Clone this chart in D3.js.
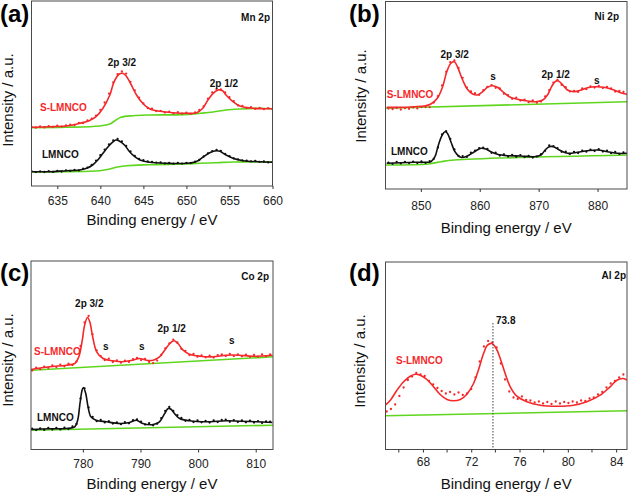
<!DOCTYPE html>
<html><head><meta charset="utf-8">
<script src="https://cdn.jsdelivr.net/npm/d3@7"></script>
<style>
html,body{margin:0;padding:0;background:#fff;}
svg{display:block;}
text{font-family:"Liberation Sans",Arial,sans-serif;}
</style></head>
<body>
<svg id="chart" width="629" height="494"></svg>
<script>
// ---------------- DATA ----------------
// (a) Mn 2p
const mnTicks = [635, 640, 645, 650, 655, 660];
const mnFitS = [[632,58.7],[634.1,59.3],[636,60],[637.6,62.7],[638.7,65.3],[639.5,69.3],[640.3,77.7],[641.1,91],[641.6,104.3],[642.2,112],[642.6,112.7],[643,110],[643.6,101],[644.2,91],[645,82],[645.7,77.3],[646.9,74.7],[648.4,73.3],[650,72.7],[651.2,73.3],[651.9,77.7],[652.5,86],[653.1,92.7],[653.7,96],[654.2,95.3],[654.6,91],[655.4,84.3],[656.2,80],[657.4,78],[658.9,77.3],[660,77.3]];
const mnBgS = [[632,58.3],[636,58.7],[639.9,60],[641.1,62],[641.7,65.3],[642.4,68.7],[643.8,70.3],[645.7,71],[649.6,71.3],[651.6,72.7],[653.1,74],[654.6,76],[656.2,77],[658.5,77.7],[660,77.3]];
const mnFitL = [[632,14.3],[634.1,14.3],[636,15.3],[637.6,16],[638.4,17.7],[639.1,21],[639.7,26],[640.3,32.7],[640.9,39.3],[641.5,44.3],[641.8,46],[642.2,45],[642.8,41],[643.4,34.3],[644,29.3],[644.6,26],[645.7,23.7],[647.7,22.7],[650,22.7],[651.1,24.3],[651.9,28.7],[652.7,33.3],[653.5,35.3],[653.9,34.7],[654.6,31],[655.4,27.7],[656.6,25.3],[658.5,24.3],[660,23.7]];
const mnBgL = [[632,14],[639.9,15.3],[641,16.7],[641.8,18.7],[643,20.3],[645.7,21.3],[649.6,22],[651.5,22.7],[653.5,23.3],[655.4,24],[660,24]];
const mnDotStart = 632, mnDotStep = 0.5;
const mnDotsS = [59.2,58.3,59.5,58.6,59.9,59.0,60.3,59.4,60.6,61.4,61.0,63.2,63.0,65.5,67.3,70.4,76.2,83.5,92.4,103.5,111.8,114.6,112.4,104.2,95.6,88.4,82.5,78.0,77.3,74.8,75.2,73.5,74.3,72.6,73.8,72.3,73.4,72.2,73.6,76.1,79.6,87.4,93.5,96.8,96.7,93.6,88.8,84.9,80.6,80.2,78.0,78.9,77.1,78.0,76.8,77.9,76.9];
const mnDotsL = [14.8,13.9,14.6,14.0,14.9,14.1,15.2,14.5,15.7,15.1,16.2,15.6,17.3,18.4,21.2,25.3,30.8,36.4,41.5,45.6,47.0,44.6,40.1,34.6,30.2,27.2,25.8,24.6,24.1,23.4,23.6,22.5,23.2,22.3,23.1,22.4,23.0,22.9,24.3,26.0,29.5,32.6,34.8,36.0,35.2,32.0,29.8,27.6,26.7,25.6,25.4,24.7,25.0,24.2,24.5,23.6,24.0];

// (b) Ni 2p
const niTicks = [850, 860, 870, 880];
const niFitS = [[844.2,81.7],[846.6,81.7],[848.9,82.3],[850.6,83],[851.7,85],[852.8,90.7],[853.7,102.3],[854.4,117.3],[855.1,125.7],[855.7,127.3],[856.2,122.3],[857.1,109],[857.9,99.7],[858.8,95],[859.6,94],[860.5,97.3],[861.3,101.7],[862.2,103.3],[863,101.7],[863.9,97.3],[865,92.3],[866.4,89.7],[868.1,88],[869.5,87.3],[870.7,89],[871.5,94],[872.2,102.3],[872.8,107.3],[873.3,108.3],[874.1,104],[874.9,99],[876,97.3],[877.2,99],[878.3,101.3],[879.7,102.3],[881.1,101.7],[882.8,99],[884.2,95.7],[885.1,94.7]];
const niBgS = [[844,80.7],[885,87.3]];
const niFitL = [[844.2,25.7],[846.6,26.3],[848.9,26.7],[850.6,26.7],[851.7,27.3],[852.4,32.3],[852.9,42.3],[853.5,52.3],[854.1,57.3],[854.5,55.7],[855.1,47.3],[855.8,37.3],[856.8,31.7],[857.9,33],[859.1,37.3],[860.2,40.7],[861,40],[861.9,37.3],[863,34.7],[864.7,33.3],[867,33],[869.2,32.3],[870.4,34],[871.1,39],[871.8,42.3],[872.5,42.3],[873.5,39],[874.9,35.7],[876.6,36.7],[878.3,38.3],[880,39],[881.7,37.3],[883.4,35.7],[885.1,35.7]];
const niBgL = [[844,24],[851.3,25],[853.4,27.3],[855.7,29],[885,34]];
const niDotStart = 844.5, niDotStep = 0.7;
const niDotsS = [80.5,79.8,81.0,79.5,80.8,80.2,81.5,80.6,81.9,82.0,81.8,86.5,92.8,103.5,117.2,126.8,128.5,121.0,111.2,101.5,97.6,95.8,94.2,98.9,102.1,103.9,101.2,100.6,95.3,93.9,90.2,91.3,88.4,89.3,86.8,88.6,86.3,87.5,92.6,98.8,106.3,109.0,104.1,101.8,97.6,98.2,97.1,100.5,99.8,102.7,101.4,103.2,100.9,102.0,100.6,97.4,98.0,97.1];
const niDotsL = [26.4,25.2,27.0,25.6,27.1,25.9,27.4,26.0,27.5,26.1,27.9,30.2,41.5,54.6,57.8,50.1,39.5,33.0,32.9,32.1,36.3,38.4,40.9,41.3,40.0,36.2,36.3,33.5,34.7,32.4,34.0,32.2,33.9,32.0,33.2,31.5,32.4,34.8,38.2,43.5,42.9,40.8,37.2,37.3,35.0,37.2,36.0,38.3,37.3,39.4,38.0,39.8,37.4,38.3,35.8,37.0,35.1,36.5];

// (c) Co 2p
const coTicks = [780, 790, 800, 810];
const coFitS = [[771,80],[774.2,82.7],[777.1,84.3],[778.6,86],[779.3,92.7],[779.9,109.3],[780.3,124.3],[780.8,132],[781.2,127.7],[781.7,112.7],[782.4,97.7],[783.5,91],[785.2,88.7],[786.9,87.7],[788.7,89.3],[789.8,91],[791,89.3],[792.2,89.3],[793.3,92.7],[794.2,99.3],[795.1,106],[795.8,108.7],[796.5,106],[797.4,99.3],[798.5,95.3],[800.3,93.3],[802.6,92.7],[804.9,94.3],[807.2,94.3],[809.5,93.3],[812.9,94.3]];
const coBgS = [[771,79.3],[813,92.7]];
const coFitL = [[771,20],[774.2,20.7],[777.1,21],[778.6,22.7],[779.1,29.3],[779.5,46],[779.9,60],[780.1,62],[780.5,56],[780.9,42.7],[781.4,32.7],[782.3,29.3],[784.1,27.7],[786.4,26],[788.1,27],[789.3,29.3],[790.4,26],[792.2,25],[793.3,27.7],[794.2,36],[794.8,41],[795.3,40.3],[795.9,36],[796.8,31],[798.5,28.7],[801.4,27.7],[804.9,28.7],[807.2,28.3],[810.1,27.7],[812.9,27]];
const coBgL = [[771,19.3],[813,24.3]];
const coDotStart = 771.2, coDotStep = 0.7;
const coDotsS = [79.0,81.9,80.3,82.9,81.6,84.0,82.4,84.8,83.2,85.8,84.4,88.0,103.5,127.0,133.5,115.2,99.0,93.4,89.5,90.8,87.5,89.2,86.8,88.9,87.6,90.4,91.5,89.4,90.5,87.5,86.4,88.9,94.5,101.2,106.2,109.8,107.0,100.6,98.7,94.4,95.5,92.8,94.1,92.2,93.8,91.9,94.4,95.0,93.5,95.5,93.4,95.2,93.2,94.9,92.7,94.6,92.8,95.1,93.3,95.0];
const coDotsL = [20.8,19.4,21.0,19.6,21.5,19.9,21.6,20.1,21.8,20.5,23.1,25.5,51.0,61.2,42.0,32.5,28.3,29.5,27.1,28.3,26.0,27.2,25.3,27.4,26.2,29.3,30.1,27.8,24.9,26.3,24.2,25.8,31.4,38.5,42.5,38.6,34.3,31.5,28.7,29.6,27.5,29.1,27.2,28.6,27.0,29.0,27.4,29.5,29.8,27.7,29.4,27.5,29.1,27.2,28.8,26.9,28.4,26.6,28.0,27.8];

// (d) Al 2p
const alTicks = [68, 72, 76, 80, 84];
const alMinorTicks = [66, 70, 74, 78, 82];
const alFitS = [[64.88,44.3],[65.3,49.3],[65.85,59.3],[66.4,67.7],[66.95,73.3],[67.37,75.3],[67.78,74.3],[68.33,70],[68.88,62.7],[69.43,55],[69.99,50],[70.54,48.7],[71.09,50],[71.64,55.3],[72.19,66],[72.61,80],[73.02,96],[73.35,104.3],[73.71,106],[74.07,101],[74.4,91],[74.81,76],[75.23,62.7],[75.78,53.3],[76.61,47.7],[77.71,44.3],[79.09,43.3],[80.47,44.3],[81.57,47.7],[82.68,54.3],[83.5,62.7],[84.06,69.3],[84.61,71],[84.88,69.3]];
const alBgS = [[64.9,33.7],[84.9,38.7]];
const alPeak = 73.8;
const alDotStart = 65.0, alDotStep = 0.35;
const alDotsS = [38.0,40.5,45.0,53.5,62.0,69.5,73.0,76.5,75.0,73.5,68.5,65.0,61.5,58.5,56.0,57.5,55.0,57.0,54.5,56.0,60.5,72.0,88.0,103.0,108.5,107.0,102.0,86.0,70.0,58.0,52.0,50.5,53.0,49.5,49.0,47.0,48.0,46.0,47.5,45.5,48.0,46.0,47.5,46.5,48.0,47.0,49.0,48.5,51.0,52.0,55.0,57.5,62.0,66.0,68.5,72.0,75.0];

// ---------------- DRAW ----------------
const RED = "#f5282a", GREEN = "#5fd61e", BLACK = "#111";
const svg = d3.select("#chart");

function toPts(start, step, ys){ return ys.map((y,i)=>[start + i*step, y]); }

function panel(cfg){
  const x = d3.scaleLinear().domain(cfg.xDomain).range([cfg.left, cfg.right]);
  const y = d3.scaleLinear().domain([0, cfg.bottom - cfg.top]).range([cfg.bottom, cfg.top]);
  const g = svg.append("g");
  const clipId = "clip" + cfg.id;
  svg.append("clipPath").attr("id", clipId).append("rect")
    .attr("x", cfg.left).attr("y", cfg.top).attr("width", cfg.right-cfg.left).attr("height", cfg.bottom-cfg.top);
  const inner = g.append("g").attr("clip-path", `url(#${clipId})`);
  const line = d3.line().x(d=>x(d[0])).y(d=>y(d[1])).curve(d3.curveCatmullRom.alpha(0.5));

  (cfg.bgs||[]).forEach(b=>{
    inner.append("path").datum(b).attr("d", line).attr("fill","none").attr("stroke",GREEN).attr("stroke-width",1.6);
  });
  cfg.series.forEach(s=>{
    inner.append("g").selectAll("circle").data(s.dots).join("circle")
      .attr("cx", d=>x(d[0])).attr("cy", d=>y(d[1])).attr("r", 1.15).attr("fill", s.color);
    inner.append("path").datum(s.fit).attr("d", line).attr("fill","none").attr("stroke",s.color).attr("stroke-width",1.6);
  });
  if (cfg.vline !== undefined){
    g.append("line").attr("x1", x(cfg.vline)).attr("x2", x(cfg.vline))
      .attr("y1", cfg.vlineTop).attr("y2", cfg.bottom)
      .attr("stroke","#444").attr("stroke-width",1).attr("stroke-dasharray","1.5,1.5");
  }
  // frame
  g.append("rect").attr("x", cfg.left).attr("y", cfg.top).attr("width", cfg.right-cfg.left).attr("height", cfg.bottom-cfg.top)
    .attr("fill","none").attr("stroke","#4a4a4a").attr("stroke-width",1);
  // axis
  const ax = d3.axisBottom(x).tickValues(cfg.ticks).tickSize(3).tickSizeOuter(0).tickFormat(d3.format("d"));
  const axG = g.append("g").attr("transform", `translate(0,${cfg.bottom})`).call(ax);
  axG.select(".domain").remove();
  axG.selectAll(".tick line").attr("stroke","#333");
  axG.selectAll(".tick text").attr("font-size", 12).attr("fill","#222").attr("dy", null).attr("y", cfg.tickLabelY - cfg.bottom)
    .attr("font-family", '"Liberation Sans", Arial, sans-serif');
  if (cfg.minor){
    g.append("g").selectAll("line").data(cfg.minor).join("line")
      .attr("x1", d=>x(d)).attr("x2", d=>x(d)).attr("y1", cfg.bottom).attr("y2", cfg.bottom+3).attr("stroke","#333");
  }
  // titles
  g.append("text").attr("x", (cfg.left+cfg.right)/2).attr("y", cfg.xTitleY).attr("text-anchor","middle")
    .attr("font-size", 15).attr("fill","#111").text("Binding energy / eV");
  g.append("text").attr("transform", `translate(${cfg.yTitleX},${cfg.yTitleY}) rotate(-90)`).attr("text-anchor","middle")
    .attr("font-size", 15).attr("fill","#111").text("Intensity / a.u.");
  g.append("text").attr("x", cfg.labelX).attr("y", cfg.labelY).attr("font-family",'"Liberation Serif","Times New Roman",serif')
    .attr("font-weight","bold").attr("font-size", 24).attr("fill","#000").text(cfg.label);
  cfg.notes.forEach(n=>{
    g.append("text").attr("x", n[1]).attr("y", n[2]).attr("text-anchor", n[3]).attr("font-size", 10)
      .attr("font-weight","bold").attr("fill", n[4]||"#111").text(n[0]);
  });
}

panel({id:"a", left:31.5, right:272.5, top:1, bottom:186, xDomain:[632,660], ticks:mnTicks,
  tickLabelY:204.5, xTitleY:225, yTitleX:13, yTitleY:100, label:"(a)", labelX:0, labelY:21.5,
  bgs:[mnBgS, mnBgL],
  series:[{color:RED, fit:mnFitS, dots:toPts(mnDotStart, mnDotStep, mnDotsS)},
          {color:BLACK, fit:mnFitL, dots:toPts(mnDotStart, mnDotStep, mnDotsL)}],
  notes:[["Mn 2p",270,20.5,"end"],["2p 3/2",122,66,"middle"],["2p 1/2",224,86.5,"middle"],
         ["S-LMNCO",40,110.5,"start",RED],["LMNCO",42,157.5,"start"]]});

panel({id:"b", left:385.5, right:627, top:1.5, bottom:189, xDomain:[844,885], ticks:niTicks,
  tickLabelY:210, xTitleY:233, yTitleX:366, yTitleY:96, label:"(b)", labelX:349, labelY:21.5,
  bgs:[niBgS, niBgL],
  series:[{color:RED, fit:niFitS, dots:toPts(niDotStart, niDotStep, niDotsS)},
          {color:BLACK, fit:niFitL, dots:toPts(niDotStart, niDotStep, niDotsL)}],
  notes:[["Ni 2p",619,19.5,"end"],["2p 3/2",454.7,57.5,"middle"],["s",493,80,"middle"],
         ["2p 1/2",555.7,77.5,"middle"],["s",596.7,84,"middle"],
         ["S-LMNCO",386.7,97.5,"start",RED],["LMNCO",391,154.5,"start"]]});

panel({id:"c", left:31, right:273, top:261, bottom:449.5, xDomain:[771,813], ticks:coTicks,
  tickLabelY:467.5, xTitleY:489, yTitleX:12.5, yTitleY:360, label:"(c)", labelX:0, labelY:281,
  bgs:[coBgS, coBgL],
  series:[{color:RED, fit:coFitS, dots:toPts(coDotStart, coDotStep, coDotsS)},
          {color:BLACK, fit:coFitL, dots:toPts(coDotStart, coDotStep, coDotsL)}],
  notes:[["Co 2p",269,279.5,"end"],["2p 3/2",89.3,306.5,"middle"],["s",105.7,350,"middle"],
         ["s",141.7,350,"middle"],["2p 1/2",171.7,331.5,"middle"],["s",231.7,344,"middle"],
         ["S-LMNCO",34,354.5,"start",RED],["LMNCO",37,420.5,"start"]]});

panel({id:"d", left:385.5, right:627, top:262, bottom:449.5, xDomain:[64.9,84.9], ticks:alTicks, minor:alMinorTicks,
  tickLabelY:465.5, xTitleY:489, yTitleX:365, yTitleY:361, label:"(d)", labelX:349, labelY:281,
  bgs:[alBgS], vline:alPeak, vlineTop:323,
  series:[{color:RED, fit:alFitS, dots:toPts(alDotStart, alDotStep, alDotsS)}],
  notes:[["Al 2p",626,278.5,"end"],["73.8",496,323.5,"start"],["S-LMNCO",396,363.5,"start",RED]]});
</script>
</body></html>
